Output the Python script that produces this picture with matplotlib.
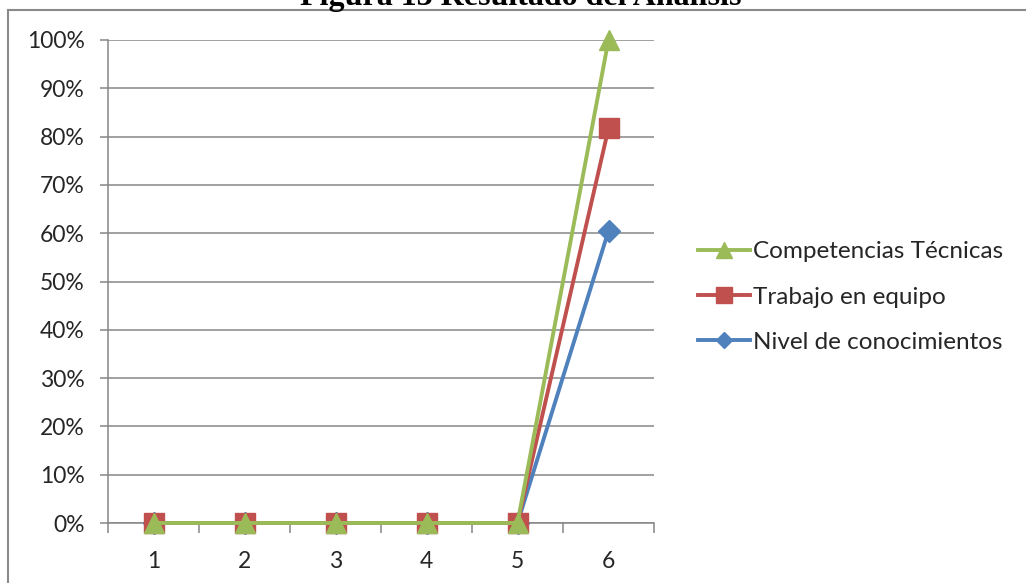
import matplotlib
matplotlib.use("Agg")
import matplotlib.pyplot as plt
from matplotlib.lines import Line2D
from matplotlib.ticker import FixedLocator, PercentFormatter

# Data
categories = [1, 2, 3, 4, 5, 6]
nivel_conocimientos = [0.0, 0.0, 0.0, 0.0, 0.0, 0.605]
trabajo_equipo = [0.0, 0.0, 0.0, 0.0, 0.0, 0.817]
competencias_tecnicas = [0.0, 0.0, 0.0, 0.0, 0.0, 1.0]
series_labels = ["Competencias Técnicas", "Trabajo en equipo", "Nivel de conocimientos"]

BLUE = "#4F81BD"
RED = "#C0504D"
GREEN = "#9BBB59"
GRID = "#868686"
TEXT = "#262626"

fig = plt.figure(figsize=(10.26, 5.83), dpi=100)
fig.patch.set_facecolor("white")

ax = fig.add_axes([108 / 1026, 1 - 523 / 583, (654 - 108) / 1026, (523 - 40) / 583])

lw = 2.8
l_blue, = ax.plot(categories, nivel_conocimientos, color=BLUE, lw=lw, marker="D",
                  markersize=11, markeredgecolor=BLUE, clip_on=False, zorder=3)
l_red, = ax.plot(categories, trabajo_equipo, color=RED, lw=lw, marker="s",
                 markersize=14, markeredgecolor=RED, clip_on=False, zorder=4)
l_green, = ax.plot(categories, competencias_tecnicas, color=GREEN, lw=lw, marker="^",
                   markersize=14.5, markeredgecolor=GREEN, clip_on=False, zorder=5)

ax.set_xlim(0.5, 6.5)
ax.set_ylim(0, 1.0)
ax.yaxis.set_major_locator(FixedLocator([i / 10 for i in range(11)]))
ax.yaxis.set_major_formatter(PercentFormatter(1.0, decimals=0))
ax.set_xticks(categories)
ax.set_xticklabels([str(c) for c in categories])
ax.xaxis.set_minor_locator(FixedLocator([c + 0.5 for c in [0] + categories]))

ax.grid(axis="y", color=GRID, lw=1.1, zorder=0)
for s in ["top", "right"]:
    ax.spines[s].set_visible(False)
for s in ["left", "bottom"]:
    ax.spines[s].set_color(GRID)
    ax.spines[s].set_linewidth(1.1)

font = "Lato"
ax.tick_params(axis="y", which="major", length=5.8, width=1.1, color=GRID,
               direction="out", labelsize=16.5, labelcolor=TEXT, pad=11)
ax.tick_params(axis="x", which="major", length=0, labelsize=16.5,
               labelcolor=TEXT, pad=20)
ax.tick_params(axis="x", which="minor", length=7, width=1.1, color=GRID,
               direction="out")
for lab in ax.get_xticklabels() + ax.get_yticklabels():
    lab.set_fontfamily(font)

leg = fig.legend([l_green, l_red, l_blue], series_labels,
                 loc="center left", bbox_to_anchor=(676 / 1026, 1 - 297 / 583),
                 frameon=False, handlelength=2.15, handletextpad=0.1,
                 labelspacing=1.0, prop={"family": font, "size": 17.5})
for t in leg.get_texts():
    t.set_color(TEXT)
for h, ms in zip(leg.legend_handles, [11, 11, 8.5]):
    h.set_markersize(ms)

# Frame lines and caption
fig.add_artist(Line2D([8 / 1026, 1], [1 - 10 / 583, 1 - 10 / 583],
                      transform=fig.transFigure, color="#8a8a8a", lw=1.5))
fig.add_artist(Line2D([8 / 1026, 8 / 1026], [0, 1 - 10 / 583],
                      transform=fig.transFigure, color="#8a8a8a", lw=1.5))
fig.text(521 / 1026, 1 - 5 / 583, "Figura 13 Resultado del Análisis",
         ha="center", va="baseline", family="Liberation Serif",
         fontweight="bold", fontsize=23)

fig.savefig("out.png", dpi=100, facecolor="white")
